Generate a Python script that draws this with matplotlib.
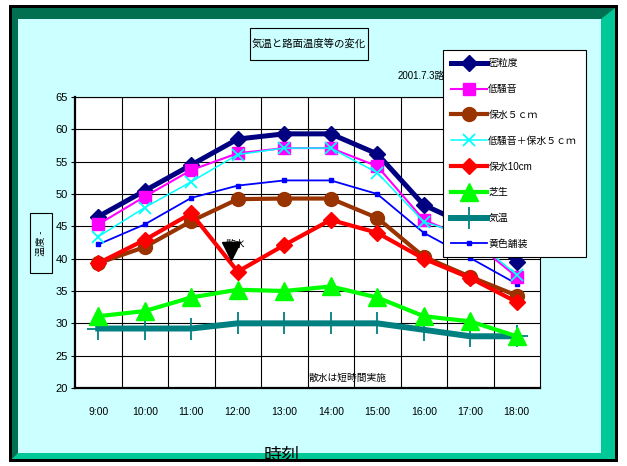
import matplotlib
matplotlib.use('Agg')
import matplotlib.pyplot as plt
import matplotlib.patches as mpatches
import numpy as np

# 和文はNoto Sans CJK JP、英数字はLiberation Sans
plt.rcParams['font.family'] = ['Liberation Sans', 'Noto Sans CJK JP']

# 測定時刻
hours = ['9:00', '10:00', '11:00', '12:00', '13:00', '14:00', '15:00', '16:00', '17:00', '18:00']

# 各舗装の路面温度と気温 (℃)
mitsuryudo = [46.5, 50.5, 54.5, 58.5, 59.3, 59.3, 56.2, 48.3, 45.0, 39.5]
teisouon = [45.3, 49.6, 53.7, 56.3, 57.1, 57.1, 54.3, 46.0, 43.0, 37.2]
hosui5 = [39.3, 41.8, 45.8, 49.2, 49.3, 49.3, 46.3, 40.3, 37.2, 34.3]
teisouon_hosui5 = [43.4, 47.9, 51.9, 56.1, 57.1, 57.1, 53.3, 45.7, 43.4, 37.5]
hosui10 = [39.3, 42.9, 47.0, 38.0, 42.1, 46.0, 44.0, 40.0, 37.0, 33.3]
shibafu = [31.1, 31.9, 34.0, 35.2, 35.0, 35.7, 34.0, 31.1, 30.3, 28.0]
kion = [29.2, 29.2, 29.2, 30.0, 30.0, 30.0, 30.0, 29.0, 28.0, 28.0]
ooshoku = [42.2, 45.3, 49.4, 51.3, 52.1, 52.1, 50.0, 44.0, 40.1, 36.1]

W, H = 627, 466
fig = plt.figure(figsize=(W / 100, H / 100), dpi=100)
fig.patch.set_facecolor('white')


def px_rect(x0, y0, x1, y1, **kw):
    # ピクセル座標(左上原点)で枠を置く
    r = mpatches.Rectangle((x0 / W, 1 - y1 / H), (x1 - x0) / W, (y1 - y0) / H,
                           transform=fig.transFigure, **kw)
    fig.add_artist(r)
    return r


# 外枠 (黒縁 + 緑の額縁 + 水色の地)
px_rect(9, 5, 618, 462, facecolor='black', edgecolor='none', zorder=0)
px_rect(12, 8, 615, 459, facecolor='#00c896', edgecolor='none', zorder=0)
band = mpatches.Polygon([(12 / W, 1 - 459 / H), (12 / W, 1 - 8 / H), (615 / W, 1 - 8 / H),
                         (601 / W, 1 - 19 / H), (18 / W, 1 - 19 / H), (18 / W, 1 - 453 / H)],
                        closed=True, transform=fig.transFigure, facecolor='#007050',
                        edgecolor='none', zorder=0)
fig.add_artist(band)
px_rect(18, 19, 601, 453, facecolor='#ccffff', edgecolor='none', zorder=0)

ax = fig.add_axes([75 / W, 1 - 388 / H, (540 - 75) / W, (388 - 97) / H])
ax.set_facecolor('white')
x = np.arange(len(hours))

ax.plot(x, kion, color='#008080', lw=4.3, marker='+', ms=16, mew=1.3, label='気温', zorder=3)
ax.plot(x, shibafu, color='#00ff00', lw=3, marker='^', ms=13, label='芝生', zorder=4)
ax.plot(x, mitsuryudo, color='#000080', lw=3.6, marker='D', ms=8, label='密粒度', zorder=5)
ax.plot(x, teisouon, color='#ff00ff', lw=1.5, marker='s', ms=8, label='低騒音', zorder=6)
ax.plot(x, hosui5, color='#993300', lw=3, marker='o', ms=10, label='保水５ｃｍ', zorder=5)
ax.plot(x, teisouon_hosui5, color='#00ffff', lw=1.1, marker='x', ms=9, mew=1.3,
        label='低騒音＋保水５ｃｍ', zorder=7)
ax.plot(x, hosui10, color='#ff0000', lw=3, marker='D', ms=8, label='保水10cm', zorder=6)
ax.plot(x, ooshoku, color='#0000ff', lw=1.3, marker='s', ms=3.5, label='黄色舗装', zorder=5)

ax.set_xlim(-0.5, len(hours) - 0.5)
ax.set_ylim(20, 65)
ax.set_yticks(np.arange(20, 66, 5))
ax.set_xticks(x)
ax.set_xticklabels(hours)
ax.set_xticks(np.arange(0.5, len(hours) - 0.5, 1), minor=True)
ax.grid(which='minor', axis='x', color='black', lw=0.8)
ax.grid(which='major', axis='y', color='black', lw=0.8)
ax.set_axisbelow(True)
ax.tick_params(axis='x', which='both', length=0, pad=14, labelsize=7.5)
ax.tick_params(axis='y', length=3, width=0.8, pad=2, labelsize=8)
for s in ['top', 'right']:
    ax.spines[s].set_color('black')
    ax.spines[s].set_linewidth(0.8)
for s in ['left', 'bottom']:
    ax.spines[s].set_linewidth(1.6)

# 注記
ax.text(2.95, 42.3, '散水', fontsize=7, ha='center', va='center', zorder=8)
ax.plot([2.85], [41.2], marker='v', ms=13, color='black', ls='none', zorder=9)
ax.text(5.37, 21.6, '散水は短時間実施', fontsize=7, ha='center', va='center', zorder=8)

# 表題と測定日
px_rect(250, 28, 368, 60, facecolor='none', edgecolor='black', lw=0.8, zorder=2)
fig.text(309 / W, 1 - 44 / H, '気温と路面温度等の変化', fontsize=7.5, ha='center', va='center')
fig.text(398 / W, 1 - 76 / H, '2001.7.3路面温度測定', fontsize=7, ha='left', va='center')

# 縦軸名
px_rect(30, 213, 52, 273, facecolor='none', edgecolor='black', lw=0.8, zorder=2)
fig.text(41 / W, 1 - 243 / H, '温度 -', fontsize=7, rotation=90, ha='center', va='center')

# 横軸名
fig.text(282 / W, 1 - 456 / H, '時刻', fontsize=13, ha='center', va='center', zorder=10)

# 凡例
order = ['密粒度', '低騒音', '保水５ｃｍ', '低騒音＋保水５ｃｍ', '保水10cm', '芝生', '気温', '黄色舗装']
handles, labels = ax.get_legend_handles_labels()
hmap = dict(zip(labels, handles))
leg = fig.legend([hmap[k] for k in order], order, loc='upper left',
                 bbox_to_anchor=(443 / W, 1 - 50 / H), bbox_transform=fig.transFigure,
                 fontsize=7.1, frameon=True, fancybox=False, framealpha=1,
                 edgecolor='black', facecolor='white', handlelength=3.6,
                 handletextpad=0.15, labelspacing=1.6, borderpad=0.85, borderaxespad=0)
leg.get_frame().set_linewidth(0.8)
leg.set_zorder(20)

fig.savefig('out.png', dpi=100)
